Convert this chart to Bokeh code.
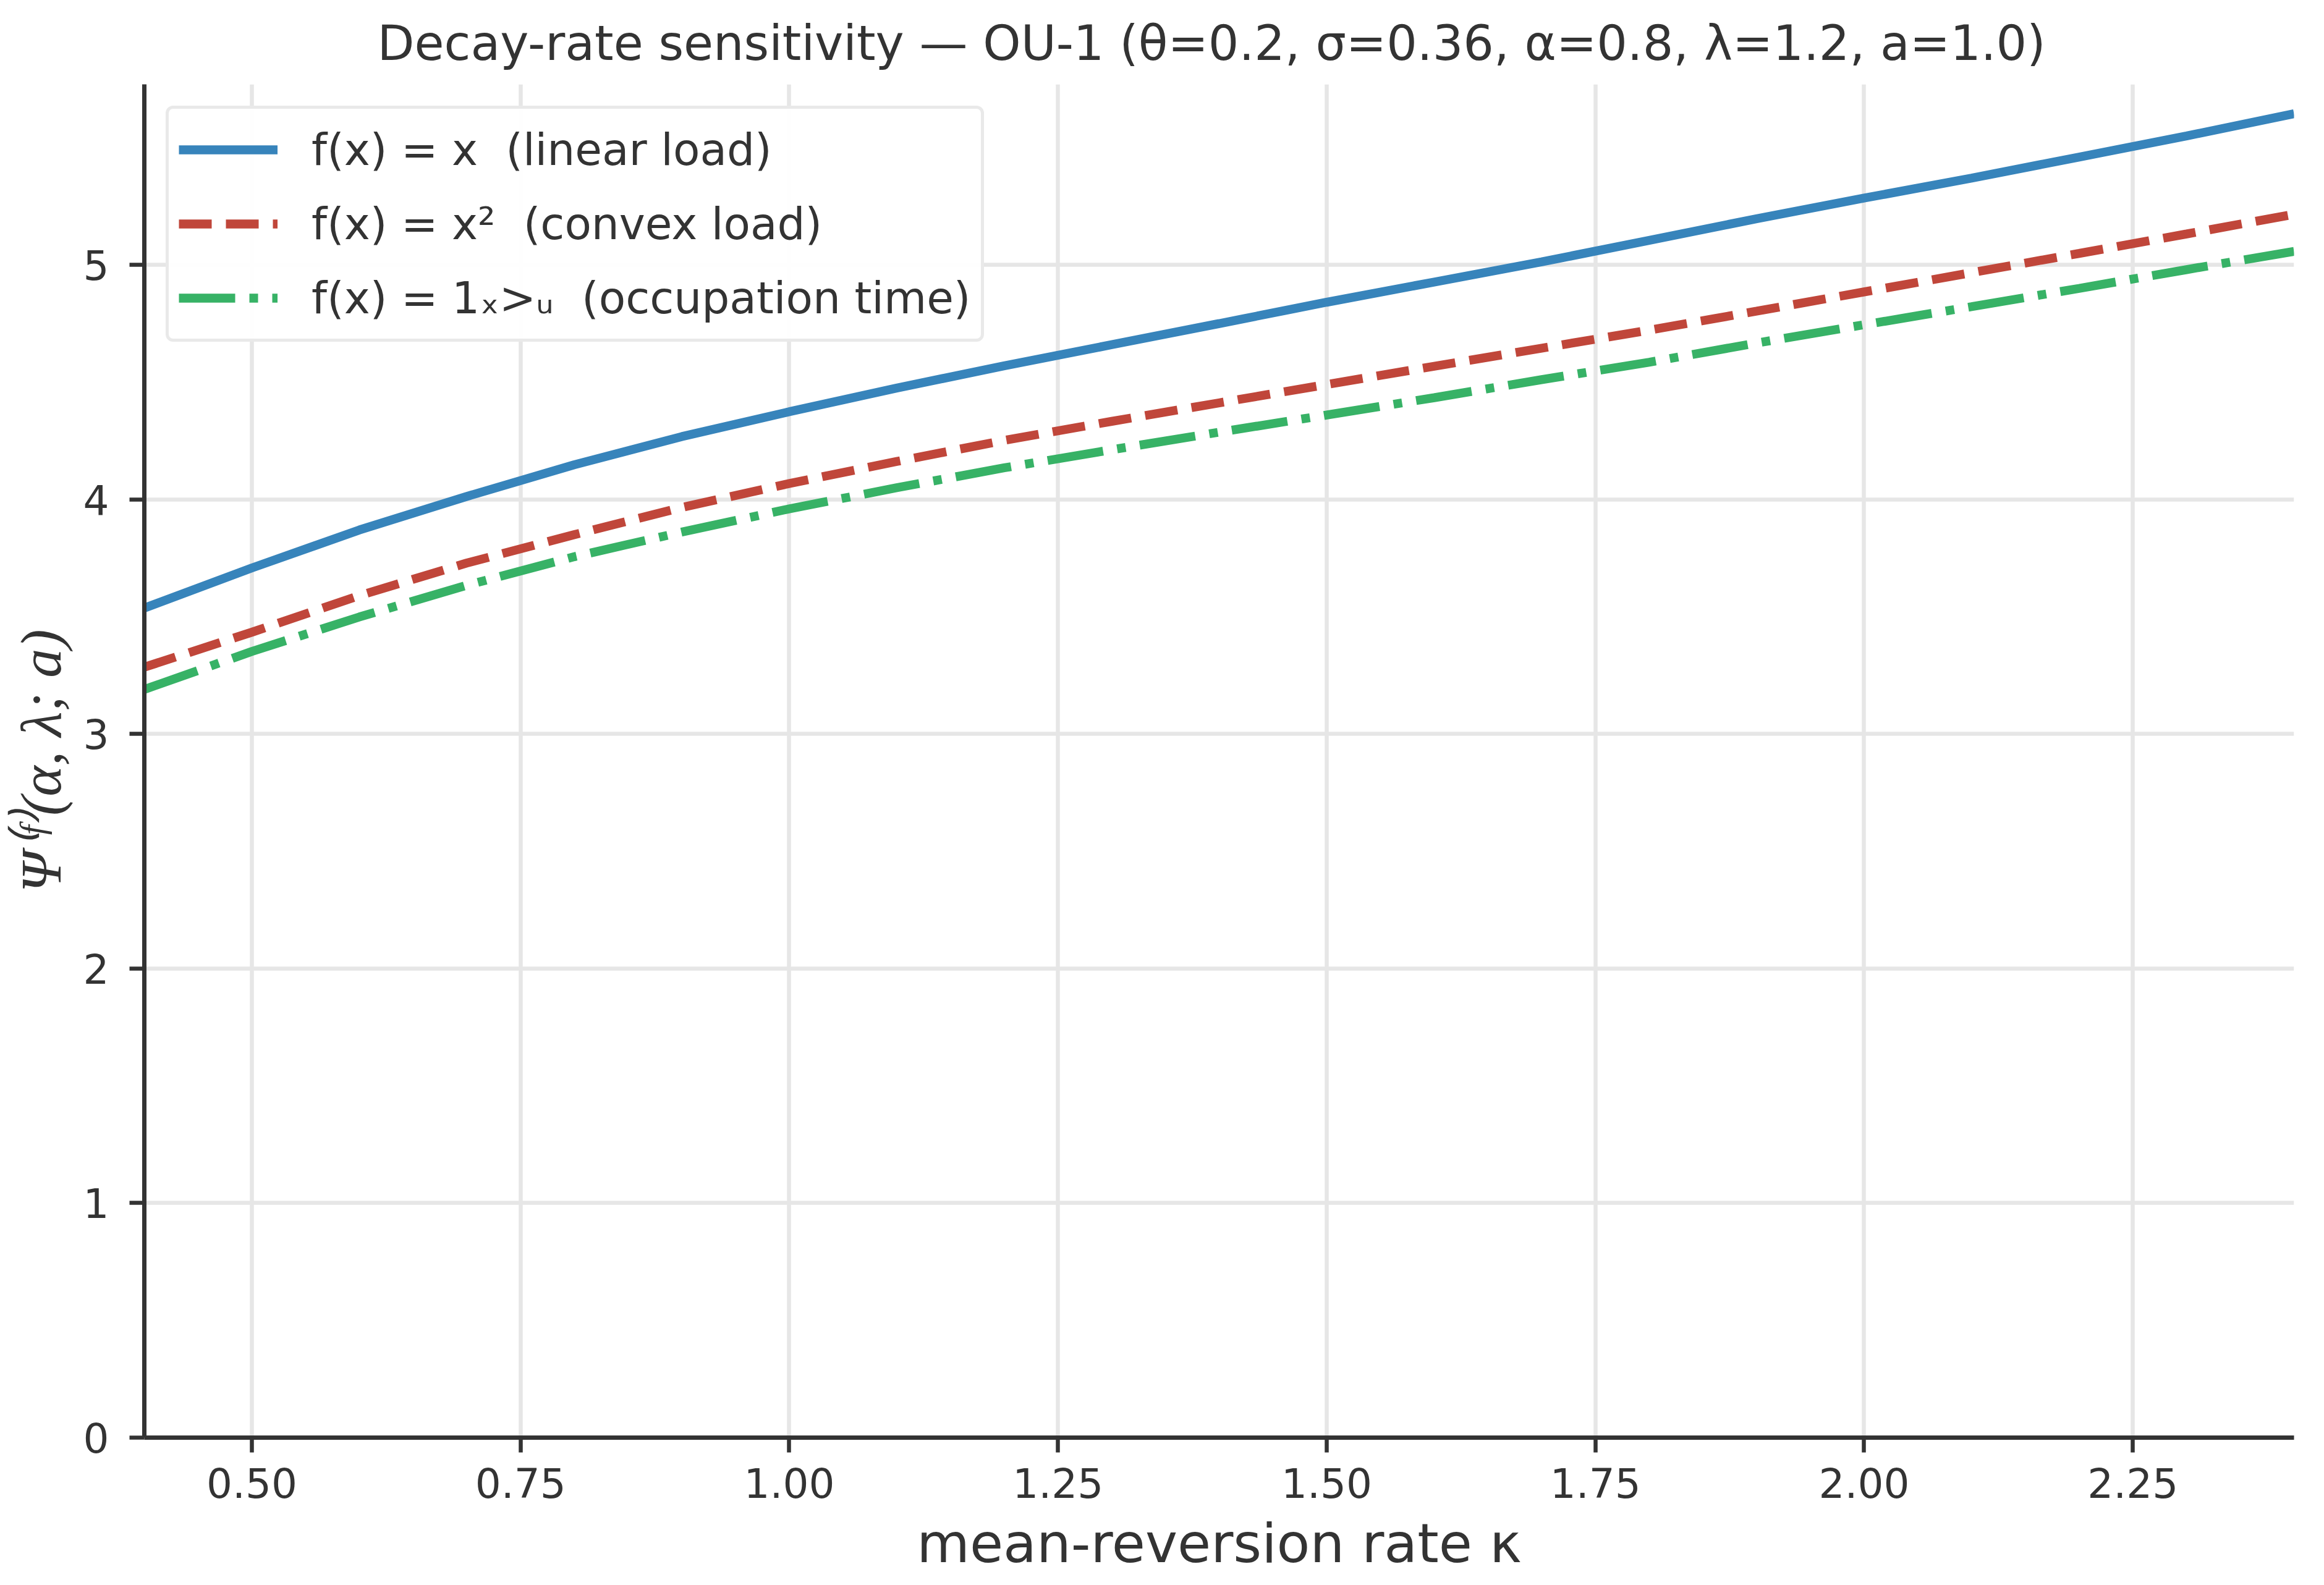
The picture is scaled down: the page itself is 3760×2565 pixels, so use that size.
from bokeh.plotting import figure
from bokeh.models import (FixedTicker, PrintfTickFormatter, Legend, LegendItem,
                          Range1d, Title)
from bokeh.embed import file_html
from bokeh.resources import INLINE

# ---------------- data ----------------
kappa = [0.4, 0.5, 0.6, 0.7, 0.8, 0.9, 1.0, 1.1, 1.2, 1.3, 1.4,
         1.5, 1.6, 1.7, 1.8, 1.9, 2.0, 2.1, 2.2, 2.3, 2.4]
psi_linear = [3.537, 3.708, 3.870, 4.013, 4.148, 4.268, 4.374, 4.475, 4.570,
              4.660, 4.750, 4.841, 4.927, 5.013, 5.105, 5.197, 5.285, 5.370,
              5.460, 5.550, 5.645]
psi_convex = [3.285, 3.434, 3.590, 3.729, 3.850, 3.966, 4.068, 4.162, 4.252,
              4.333, 4.412, 4.490, 4.568, 4.645, 4.722, 4.803, 4.885, 4.967,
              5.049, 5.132, 5.216]
psi_occupation = [3.190, 3.352, 3.499, 3.634, 3.756, 3.861, 3.960, 4.050, 4.135,
                  4.212, 4.287, 4.360, 4.434, 4.511, 4.585, 4.667, 4.745, 4.822,
                  4.900, 4.980, 5.058]

series_labels = ["f(x) = x  (linear load)",
                 "f(x) = x²  (convex load)",
                 "f(x) = 1ₓ>ᵤ  (occupation time)"]
x_ticks = [0.5, 0.75, 1.0, 1.25, 1.5, 1.75, 2.0, 2.25]
y_ticks = [0, 1, 2, 3, 4, 5]
title_text = ("Decay-rate sensitivity — OU-1  "
              "(θ=0.2, σ=0.36, α=0.8, λ=1.2, a=1.0)")
x_label = "mean-reversion rate κ"
y_label = "Ψ⁽ᶠ⁾(α, λ; a)"

# ---------------- style ----------------
TXT = "#333333"
C_BLUE, C_RED, C_GREEN = "#3784bb", "#c0463a", "#37b266"
LW = 14.3
X_MIN, X_MAX = 0.4, 2.4
Y_MIN, Y_MAX = 0.0, 5.77

p = figure(frame_width=3478, frame_height=2190,
           x_range=Range1d(X_MIN, X_MAX), y_range=Range1d(Y_MIN, Y_MAX),
           output_backend="svg", toolbar_location=None,
           min_border_left=233, min_border_top=135, min_border_right=45,
           min_border_bottom=236, outline_line_color=None,
           background_fill_color="white", border_fill_color="white")

p.title = Title(text=title_text, align="center", text_font="DejaVu Sans",
                text_font_style="normal", text_font_size="78px",
                text_color=TXT, standoff=44)

# axes
p.xaxis.ticker = FixedTicker(ticks=x_ticks)
p.xaxis.formatter = PrintfTickFormatter(format="%.2f")
p.yaxis.ticker = FixedTicker(ticks=y_ticks)
p.yaxis.formatter = PrintfTickFormatter(format="%d")
p.xgrid.ticker = FixedTicker(ticks=x_ticks)
p.ygrid.ticker = FixedTicker(ticks=y_ticks)
for ax in (p.xaxis, p.yaxis):
    ax.axis_line_color = TXT
    ax.axis_line_width = 7
    ax.major_tick_line_color = TXT
    ax.major_tick_line_width = 6.5
    ax.major_tick_in = 0
    ax.major_tick_out = 24
    ax.minor_tick_line_color = None
    ax.major_label_text_font = "DejaVu Sans"
    ax.major_label_text_font_size = "66px"
    ax.major_label_text_color = TXT
    ax.axis_label_text_color = TXT
p.xaxis.major_label_standoff = 24
p.yaxis.major_label_standoff = 33
p.xaxis.axis_label = x_label
p.xaxis.axis_label_text_font = "DejaVu Sans"
p.xaxis.axis_label_text_font_style = "normal"
p.xaxis.axis_label_text_font_size = "88px"
p.xaxis.axis_label_standoff = 19
p.yaxis.axis_label = y_label
p.yaxis.axis_label_text_font = "Liberation Serif"
p.yaxis.axis_label_text_font_style = "italic"
p.yaxis.axis_label_text_font_size = "94px"
p.yaxis.axis_label_standoff = 14

for g in (p.xgrid, p.ygrid):
    g.grid_line_color = "#e6e6e6"
    g.grid_line_width = 6.5

# lines
r1 = p.line(kappa, psi_linear, line_color=C_BLUE, line_width=LW)
r2 = p.line(kappa, psi_convex, line_color=C_RED, line_width=LW, line_dash="53 23")
r3 = p.line(kappa, psi_occupation, line_color=C_GREEN, line_width=LW,
            line_dash="91 23 14 23")

legend = Legend(items=[LegendItem(label=series_labels[0], renderers=[r1]),
                       LegendItem(label=series_labels[1], renderers=[r2]),
                       LegendItem(label=series_labels[2], renderers=[r3])],
                location="top_left", margin=35, padding=16, spacing=20,
                glyph_width=160, glyph_height=100, label_height=100,
                label_width=1060, label_standoff=55,
                label_text_font="DejaVu Sans",
                label_text_font_size="71px", label_text_color=TXT,
                border_line_color="#d4d4d4", border_line_width=5,
                background_fill_color="white", background_fill_alpha=0.95)
try:
    legend.border_radius = 12
except Exception:
    pass
p.add_layout(legend)

open("out.html", "w").write(file_html(p, INLINE))
